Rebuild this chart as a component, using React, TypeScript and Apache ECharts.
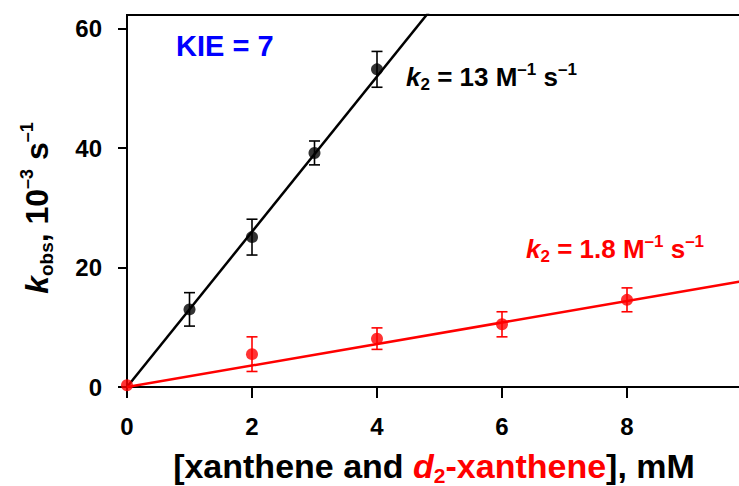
import React, { useEffect, useRef } from "react";
import * as echarts from "echarts";

// [xanthene] series (black) — concentration in mM, k_obs in 10^-3 s^-1
const xanConc = [1, 2, 3, 4];
const xanKobs = [13.0, 25.1, 39.2, 53.2];
const xanErr = [2.8, 3.0, 2.0, 3.0];

// [d2-xanthene] series (red)
const d2Conc = [0, 2, 4, 6, 8];
const d2Kobs = [0.3, 5.5, 8.1, 10.5, 14.6];
const d2Err = [0, 2.9, 1.8, 2.1, 2.0];

// second-order rate constants (M^-1 s^-1) → slopes of the fitted lines
const k2Xan = 13;
const k2D2 = 1.8;
const kie = 7;

const xMax = 10;
const xTicks = [0, 2, 4, 6, 8, 10];
const xLabels = [0, 2, 4, 6, 8];
const yTicks = [0, 20, 40, 60];

const FONT = "'Liberation Sans', Arial, Helvetica, sans-serif";
const BLACK = "#000000";
const RED = "#FF0000";
const BLUE = "#0000FF";

function errorBars(xs: number[], ys: number[], es: number[], color: string) {
  return {
    type: "custom",
    z: 3,
    clip: false,
    data: xs.map((x, i) => [x, ys[i], es[i]]),
    renderItem: (_params: any, api: any) => {
      const x = api.value(0);
      const y = api.value(1);
      const e = api.value(2);
      if (!e) return null;
      const top = api.coord([x, y + e]);
      const bot = api.coord([x, y - e]);
      const half = 5.5;
      const style = { stroke: color, lineWidth: 1.6 };
      return {
        type: "group",
        children: [
          { type: "line", shape: { x1: top[0], y1: top[1], x2: bot[0], y2: bot[1] }, style },
          { type: "line", shape: { x1: top[0] - half, y1: top[1], x2: top[0] + half, y2: top[1] }, style },
          { type: "line", shape: { x1: bot[0] - half, y1: bot[1], x2: bot[0] + half, y2: bot[1] }, style },
        ],
      };
    },
  };
}

function fitLine(slope: number, color: string) {
  return {
    type: "line",
    z: 2,
    clip: true,
    showSymbol: false,
    silent: true,
    data: [
      [0, 0],
      [xMax, slope * xMax],
    ],
    lineStyle: { color, width: 2.5 },
  };
}

function scatter(xs: number[], ys: number[], color: string) {
  return {
    type: "scatter",
    z: 4,
    symbol: "circle",
    symbolSize: 12,
    itemStyle: { color },
    data: xs.map((x, i) => [x, ys[i]]),
  };
}

const rateRich = (color: string) => ({
  k: { fontFamily: FONT, fontWeight: "bold", fontStyle: "italic", fontSize: 26, lineHeight: 32, fill: color, color, verticalAlign: "middle" },
  sub: { fontFamily: FONT, fontWeight: "bold", fontSize: 17, lineHeight: 17, fill: color, color, verticalAlign: "bottom" },
  t: { fontFamily: FONT, fontWeight: "bold", fontSize: 26, lineHeight: 32, fill: color, color, verticalAlign: "middle" },
  sup: { fontFamily: FONT, fontWeight: "bold", fontSize: 17, lineHeight: 17, fill: color, color, verticalAlign: "top" },
});

export default function App() {
  const ref = useRef<HTMLDivElement>(null);

  useEffect(() => {
    if (!ref.current) return;
    const chart = echarts.init(ref.current, null, { renderer: "svg" });

    chart.setOption({
      animation: false,
      backgroundColor: "#ffffff",
      grid: {
        left: 127,
        top: 15,
        right: 8,
        bottom: 99,
        show: true,
        borderColor: BLACK,
        borderWidth: 2,
        backgroundColor: "transparent",
      },
      xAxis: {
        type: "value",
        min: 0,
        max: xMax,
        interval: 2,
        splitLine: { show: false },
        axisLine: { show: true, onZero: false, lineStyle: { color: BLACK, width: 2 } },
        axisTick: { show: true, length: 11, lineStyle: { color: BLACK, width: 2 }, customValues: xTicks },
        axisLabel: {
          customValues: xLabels,
          margin: 27,
          color: BLACK,
          fontFamily: FONT,
          fontWeight: "bold",
          fontSize: 24,
        },
      },
      yAxis: {
        type: "value",
        min: 0,
        max: 62.3,
        interval: 20,
        splitLine: { show: false },
        axisLine: { show: true, onZero: false, lineStyle: { color: BLACK, width: 2 } },
        axisTick: { show: true, length: 9, lineStyle: { color: BLACK, width: 2 }, customValues: yTicks },
        axisLabel: {
          customValues: yTicks,
          margin: 25,
          color: BLACK,
          fontFamily: FONT,
          fontWeight: "bold",
          fontSize: 24,
        },
      },
      series: [
        fitLine(k2Xan, BLACK),
        fitLine(k2D2, RED),
        errorBars(xanConc, xanKobs, xanErr, BLACK),
        errorBars(d2Conc, d2Kobs, d2Err, RED),
        scatter(xanConc, xanKobs, BLACK),
        scatter(d2Conc, d2Kobs, RED),
      ],
      graphic: [
        {
          type: "text",
          x: 176,
          y: 46,
          style: {
            text: `KIE = ${kie}`,
            fill: BLUE,
            fontFamily: FONT,
            fontWeight: "bold",
            fontSize: 29,
            verticalAlign: "middle",
          },
        },
        {
          type: "text",
          x: 406,
          y: 77,
          style: {
            text: `{k|k}{sub|2}{t| = ${k2Xan} M}{sup|\u20131}{t| s}{sup|\u20131}`,
            verticalAlign: "middle",
            rich: rateRich(BLACK),
          },
        },
        {
          type: "text",
          x: 526,
          y: 249,
          style: {
            text: `{k|k}{sub|2}{t| = ${k2D2} M}{sup|\u20131}{t| s}{sup|\u20131}`,
            verticalAlign: "middle",
            rich: rateRich(RED),
          },
        },
        {
          type: "text",
          x: 434,
          y: 466,
          style: {
            text: "{b|[xanthene and }{ri|d}{rs|2}{r|-xanthene}{b|], mM}",
            align: "center",
            verticalAlign: "middle",
            rich: {
              b: { fontFamily: FONT, fontWeight: "bold", fontSize: 34, lineHeight: 40, fill: BLACK, color: BLACK, verticalAlign: "middle" },
              r: { fontFamily: FONT, fontWeight: "bold", fontSize: 34, lineHeight: 40, fill: RED, color: RED, verticalAlign: "middle" },
              ri: { fontFamily: FONT, fontWeight: "bold", fontStyle: "italic", fontSize: 34, lineHeight: 40, fill: RED, color: RED, verticalAlign: "middle" },
              rs: { fontFamily: FONT, fontWeight: "bold", fontSize: 21, lineHeight: 21, fill: RED, color: RED, verticalAlign: "bottom" },
            },
          },
        },
        {
          type: "text",
          x: 37,
          y: 208,
          rotation: Math.PI / 2,
          style: {
            text: "{k|k}{sub|obs}{t|, 10}{sup|\u20133}{t| s}{sup|\u20131}",
            align: "center",
            verticalAlign: "middle",
            rich: {
              k: { fontFamily: FONT, fontWeight: "bold", fontStyle: "italic", fontSize: 32, lineHeight: 38, fill: BLACK, color: BLACK, verticalAlign: "middle" },
              sub: { fontFamily: FONT, fontWeight: "bold", fontSize: 19, lineHeight: 19, fill: BLACK, color: BLACK, verticalAlign: "bottom" },
              t: { fontFamily: FONT, fontWeight: "bold", fontSize: 32, lineHeight: 38, fill: BLACK, color: BLACK, verticalAlign: "middle" },
              sup: { fontFamily: FONT, fontWeight: "bold", fontSize: 18, lineHeight: 18, fill: BLACK, color: BLACK, verticalAlign: "top" },
            },
          },
        },
      ],
    });

    return () => chart.dispose();
  }, []);

  return (
    <div
      ref={ref}
      style={{ position: "fixed", left: 0, top: 0, width: 760, height: 486 }}
    />
  );
}
